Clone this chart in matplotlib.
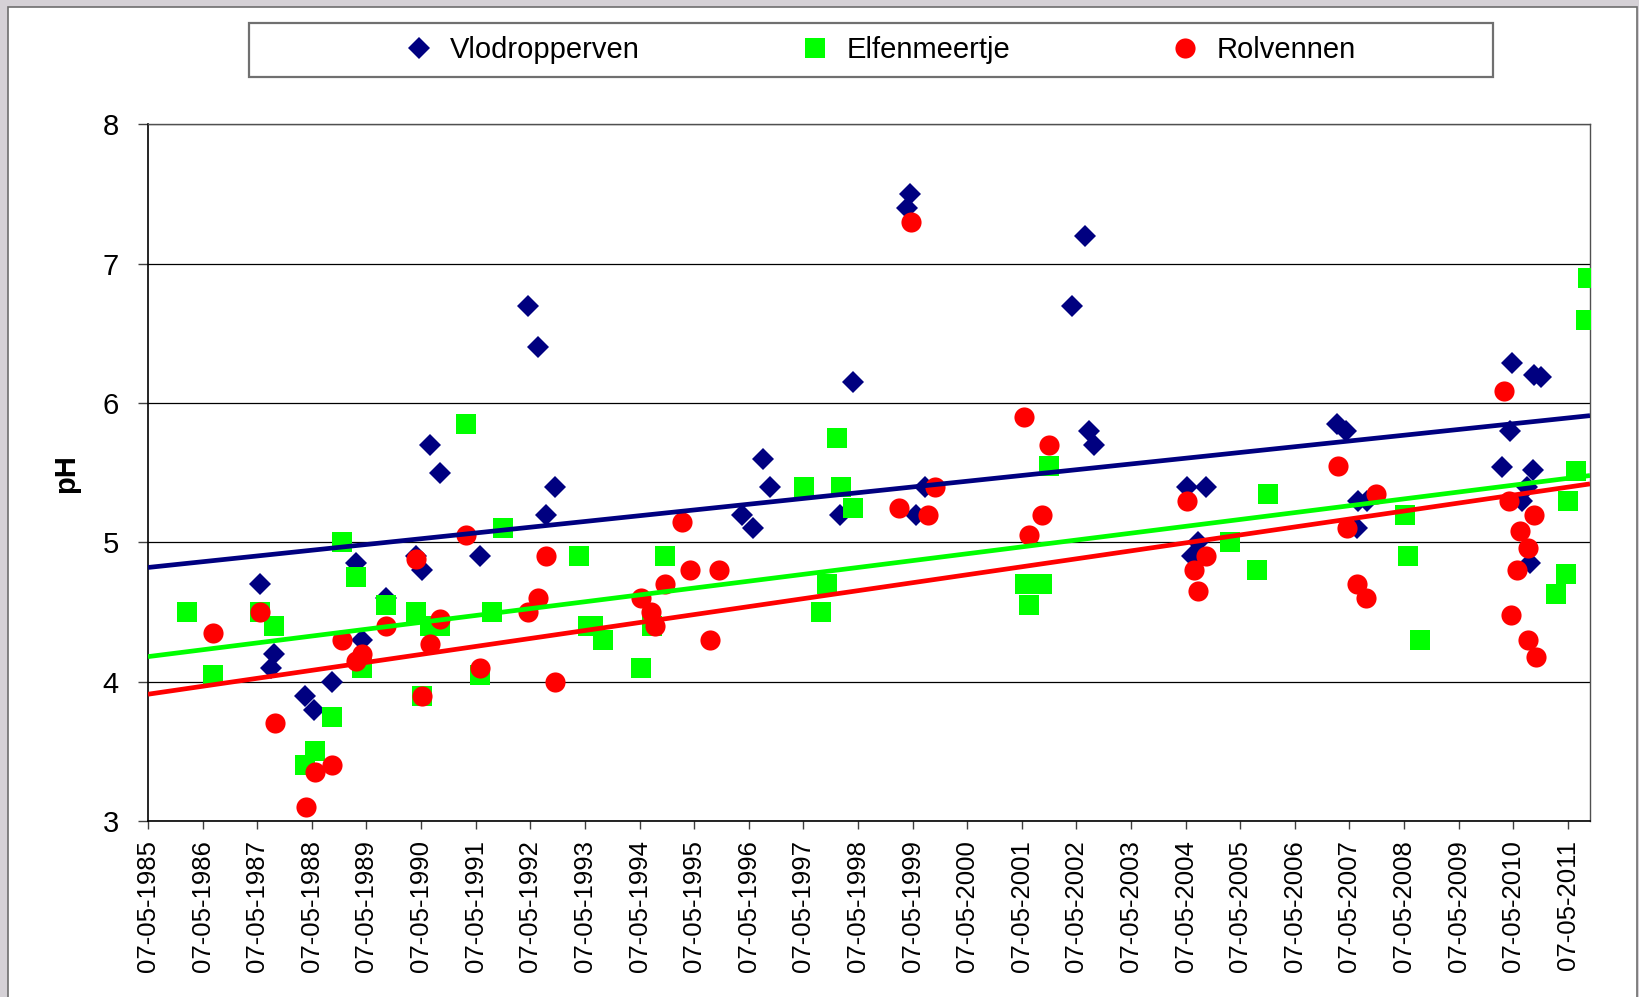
import numpy as np
import matplotlib
matplotlib.use('Agg')
import matplotlib.pyplot as plt
from matplotlib.patches import Rectangle
from matplotlib.lines import Line2D

plt.rcParams['font.family'] = ['Liberation Sans', 'DejaVu Sans']

# meetpunten (decimale jaren, pH)
vlo_jaar = [1987.40, 1987.59, 1987.65, 1988.22, 1988.38, 1988.72, 1989.16, 1989.26, 1989.70,
            1990.25, 1990.37, 1990.50, 1990.69, 1991.42, 1992.30, 1992.48, 1992.63, 1992.80,
            1996.23, 1996.42, 1996.60, 1996.73, 1998.01, 1998.26, 1999.24, 1999.30, 1999.41,
            1999.58, 2002.27, 2002.50, 2002.57, 2002.67, 2004.37, 2004.47, 2004.58, 2004.72,
            2007.11, 2007.29, 2007.48, 2007.50, 2007.66, 2010.13, 2010.28, 2010.32, 2010.50,
            2010.60, 2010.65, 2010.71, 2010.72, 2010.86]
vlo_ph = [4.70, 4.10, 4.20, 3.90, 3.80, 4.00, 4.85, 4.30, 4.60,
          4.90, 4.80, 5.70, 5.50, 4.90, 6.70, 6.40, 5.20, 5.40,
          5.20, 5.10, 5.60, 5.40, 5.20, 6.15, 7.40, 7.50, 5.20,
          5.40, 6.70, 7.20, 5.80, 5.70, 5.40, 4.90, 5.00, 5.40,
          5.85, 5.80, 5.10, 5.30, 5.30, 5.54, 5.80, 6.29, 5.30,
          5.40, 4.85, 5.52, 6.20, 6.19]

elf_jaar = [1986.06, 1986.54, 1987.40, 1987.65, 1988.22, 1988.40, 1988.72, 1988.90, 1989.16,
            1989.26, 1989.70, 1990.25, 1990.37, 1990.50, 1990.69, 1991.17, 1991.42, 1991.65,
            1991.84, 1993.24, 1993.41, 1993.49, 1993.68, 1994.37, 1994.58, 1994.81, 1997.36,
            1997.67, 1997.78, 1997.96, 1998.03, 1998.26, 2001.40, 2001.48, 2001.71, 2001.84,
            2005.16, 2005.66, 2005.85, 2008.36, 2008.41, 2008.63, 2011.12, 2011.31, 2011.35,
            2011.50, 2011.67, 2011.71]
elf_ph = [4.50, 4.05, 4.50, 4.40, 3.40, 3.50, 3.75, 5.00, 4.75,
          4.10, 4.55, 4.50, 3.90, 4.40, 4.40, 5.85, 4.05, 4.50,
          5.10, 4.90, 4.40, 4.40, 4.30, 4.10, 4.40, 4.90, 5.40,
          4.50, 4.70, 5.75, 5.40, 5.25, 4.70, 4.55, 4.70, 5.55,
          5.00, 4.80, 5.35, 5.20, 4.90, 4.30, 4.63, 4.77, 5.30,
          5.51, 6.60, 6.90]

rol_jaar = [1986.54, 1987.40, 1987.67, 1988.24, 1988.40, 1988.72, 1988.90, 1989.16, 1989.26,
            1989.70, 1990.25, 1990.37, 1990.50, 1990.69, 1991.17, 1991.42, 1992.30, 1992.48,
            1992.63, 1992.80, 1994.37, 1994.56, 1994.62, 1994.81, 1995.12, 1995.27, 1995.64,
            1995.81, 1999.10, 1999.31, 1999.62, 1999.76, 2001.38, 2001.48, 2001.71, 2001.84,
            2004.37, 2004.49, 2004.58, 2004.72, 2007.13, 2007.30, 2007.48, 2007.65, 2007.84,
            2010.18, 2010.27, 2010.31, 2010.41, 2010.46, 2010.62, 2010.62, 2010.73, 2010.77]
rol_ph = [4.35, 4.50, 3.70, 3.10, 3.35, 3.40, 4.30, 4.15, 4.20,
          4.40, 4.88, 3.90, 4.27, 4.45, 5.05, 4.10, 4.50, 4.60,
          4.90, 4.00, 4.60, 4.50, 4.40, 4.70, 5.15, 4.80, 4.30,
          4.80, 5.25, 7.30, 5.20, 5.40, 5.90, 5.05, 5.20, 5.70,
          5.30, 4.80, 4.65, 4.90, 5.55, 5.10, 4.70, 4.60, 5.35,
          6.09, 5.30, 4.48, 4.80, 5.08, 4.96, 4.30, 5.20, 4.18]

trend_begin = [4.82, 4.18, 3.91]
trend_eind = [5.91, 5.48, 5.42]

namen = ['Vlodropperven', 'Elfenmeertje', 'Rolvennen']
kleuren = ['#000080', '#00FF00', '#FF0000']
markers = ['D', 's', 'o']
msizes = [11.5, 14, 14.5]

x_begin = 1985 + 126 / 365.0   # 07-05-1985
x_eind = 2011.75
jaren = np.arange(1985, 2012)

fig = plt.figure(figsize=(16.4, 9.97), dpi=100)
fig.patch.set_facecolor('#d5d1d6')
# witte grafiekruimte
fig.patches.append(Rectangle((8 / 1640, -0.01), (1637 - 8) / 1640, 1 - 7 / 997 + 0.01,
                             transform=fig.transFigure, facecolor='white',
                             edgecolor='#6e6e6e', linewidth=1.2, zorder=-2))

ax = fig.add_axes([148 / 1640, 1 - 821 / 997, (1590 - 148) / 1640, (821 - 124.5) / 997])

series = [(vlo_jaar, vlo_ph), (elf_jaar, elf_ph), (rol_jaar, rol_ph)]
for i, (xs, ys) in enumerate(series):
    ax.plot(xs, ys, linestyle='none', marker=markers[i], markersize=msizes[i],
            markerfacecolor=kleuren[i], markeredgecolor=kleuren[i], markeredgewidth=0,
            zorder=3 + i)

for i in range(3):
    ax.plot([x_begin, x_eind], [trend_begin[i], trend_eind[i]], color=kleuren[i],
            linewidth=3.4, solid_capstyle='butt', zorder=7)

ax.set_xlim(x_begin, x_eind)
ax.set_ylim(3, 8)
ax.set_yticks(np.arange(3, 9))
ax.set_xticks(jaren + 126 / 365.0)
ax.set_xticklabels(['07-05-%d' % j for j in jaren], rotation=90, fontsize=18.5)
ax.tick_params(axis='x', direction='out', length=5.5, width=1, pad=8, color='#404040')
ax.tick_params(axis='y', direction='out', length=7, width=1, pad=14, labelsize=21,
               color='#404040')
ax.yaxis.grid(True, color='black', linewidth=0.9)
ax.set_axisbelow(True)
for kant in ['left', 'bottom']:
    ax.spines[kant].set_color('black')
    ax.spines[kant].set_linewidth(1.2)
for kant in ['top', 'right']:
    ax.spines[kant].set_color('#505050')
    ax.spines[kant].set_linewidth(1.0)

fig.text(66 / 1640, 1 - 474 / 997, 'pH', rotation=90, fontsize=21, fontweight='bold',
         ha='center', va='center')

# legenda met kader
fig.patches.append(Rectangle((249 / 1640, 1 - 77 / 997), (1493 - 249) / 1640, 54 / 997,
                             transform=fig.transFigure, facecolor='white',
                             edgecolor='#707070', linewidth=1.6, zorder=-1))
handles = [Line2D([], [], linestyle='none', marker=markers[i], markersize=msizes[i],
                  markerfacecolor=kleuren[i], markeredgewidth=0) for i in range(3)]
fig.legend(handles, namen, loc='center', bbox_to_anchor=(880 / 1640, 1 - 50 / 997),
           ncol=3, frameon=False, fontsize=21, handlelength=1.0, handletextpad=0.58,
           columnspacing=5.5)

fig.savefig('out.png', dpi=100, facecolor=fig.get_facecolor())
